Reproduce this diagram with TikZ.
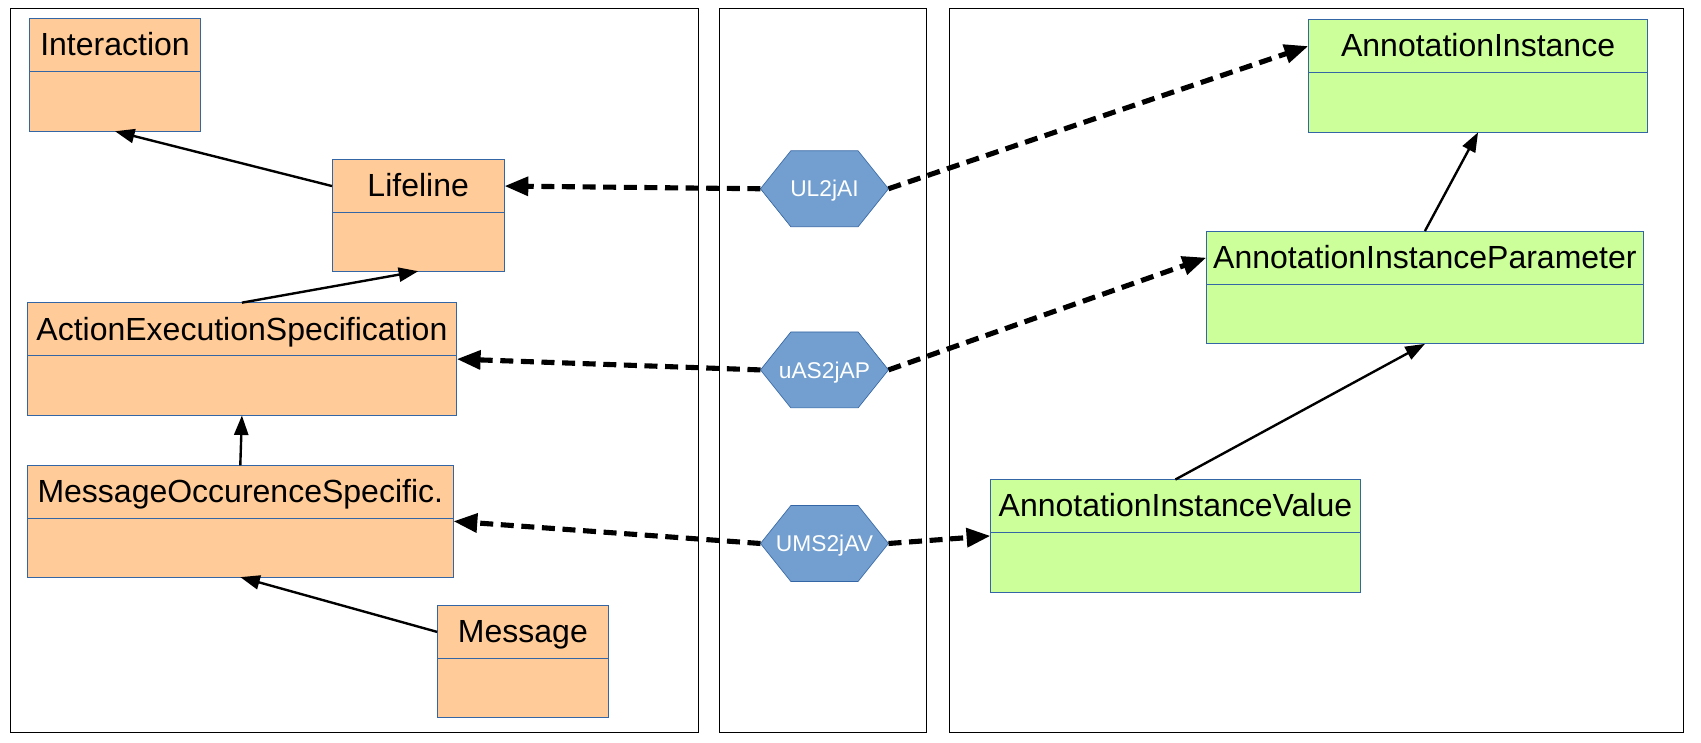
\documentclass[tikz,border=0pt]{standalone}
\usepackage{fontspec}
\setmainfont{Liberation Sans}
\usetikzlibrary{arrows.meta,calc}
\definecolor{orangefill}{HTML}{FFCC99}
\definecolor{greenfill}{HTML}{CCFF99}
\definecolor{hexfill}{HTML}{729FCF}
\definecolor{boxblue}{HTML}{3465A4}
\tikzset{
  classbox/.style={draw=boxblue, line width=0.8pt, inner sep=0pt, outer sep=0pt},
  classtext/.style={inner sep=0pt, font=\fontsize{29.5}{34}\selectfont},
  hexshape/.style={draw=boxblue, fill=hexfill, line width=0.6pt},
  hexbox/.style={inner sep=0pt, outer sep=0pt, minimum width=118pt, minimum height=70pt},
  hextext/.style={inner sep=0pt, text=white, font=\fontsize{21}{25}\selectfont},
  panel/.style={draw=black, line width=1.2pt},
  gen/.style={line width=2.2pt, -{Triangle[length=18pt,width=13pt]}},
  dep/.style={line width=4.7pt, dash pattern=on 12pt off 7pt, -{Triangle[length=22pt,width=17pt]}}
}
\newcommand\umlclass[8]{%
  \node[classbox, fill=#2, minimum width={(#5-#3)*1pt}, minimum height={(#6-#4)*1pt}, anchor=north west] (#1) at (#3,#4) {};
  \draw[boxblue, line width=0.8pt] (#3,#7) -- (#5,#7);
  \coordinate (#1h) at ({(#3+#5)/2},{(#4+#7)/2});
  \node[classtext, anchor=base] (#1t) at ({(#3+#5)/2},{(#4+#7)/2+10}) {#8};
}
\newcommand\hexnode[4]{%
  \draw[hexshape] ({#2-59},#3) -- ({#2-31},{#3-35}) -- ({#2+31},{#3-35}) -- ({#2+59},#3) -- ({#2+31},{#3+35}) -- ({#2-31},{#3+35}) -- cycle;
  \node[hexbox] (#1) at (#2,#3) {};
  \node[hextext, anchor=base] (#1t) at (#2,{#3+7.5}) {#4};
}
\begin{document}
\begin{tikzpicture}[x=1pt,y=-1pt]
\useasboundingbox (0,0) rectangle (1568,684);
% panels
\draw[panel] (10,8) rectangle (644,675);
\draw[panel] (663,8) rectangle (854,675);
\draw[panel] (875,8) rectangle (1552,675);
% classes (left)
\umlclass{inter}{orangefill}{27}{17}{185}{121}{66}{Interaction}
\umlclass{life}{orangefill}{306}{147}{465}{250}{196}{Lifeline}
\umlclass{aes}{orangefill}{25}{279}{421}{383}{328}{ActionExecutionSpecification}
\umlclass{mos}{orangefill}{25}{429}{418}{532}{478}{MessageOccurenceSpecific.}
\umlclass{msg}{orangefill}{403}{558}{561}{661}{607}{Message}
% classes (right)
\umlclass{ai}{greenfill}{1206}{18}{1519}{122}{67}{AnnotationInstance}
\umlclass{aip}{greenfill}{1112}{213}{1515}{317}{262}{AnnotationInstanceParameter}
\umlclass{aiv}{greenfill}{913}{442}{1254}{546}{491}{AnnotationInstanceValue}
% hexagons
\hexnode{hA}{760}{174}{UL2jAI}
\hexnode{hB}{760}{341}{uAS2jAP}
\hexnode{hC}{760}{501}{UMS2jAV}
% generalisations
\draw[gen] (life.west |- lifeh) -- (inter.south);
\draw[gen] (aes.north) -- (life.south);
\draw[gen] (mos.north) -- (aes.south);
\draw[gen] (msg.west |- msgh) -- (mos.south);
\draw[gen] (aip.north) -- (ai.south);
\draw[gen] (aiv.north) -- (aip.south);
% mappings
\draw[dep] (hA.west) -- (life.east |- lifeh);
\draw[dep] (hA.east) -- (ai.west |- aih);
\draw[dep] (hB.west) -- (aes.east);
\draw[dep] (hB.east) -- (aip.west |- aiph);
\draw[dep] (hC.west) -- (mos.east);
\draw[dep] (hC.east) -- (aiv.west);
\end{tikzpicture}
\end{document}
